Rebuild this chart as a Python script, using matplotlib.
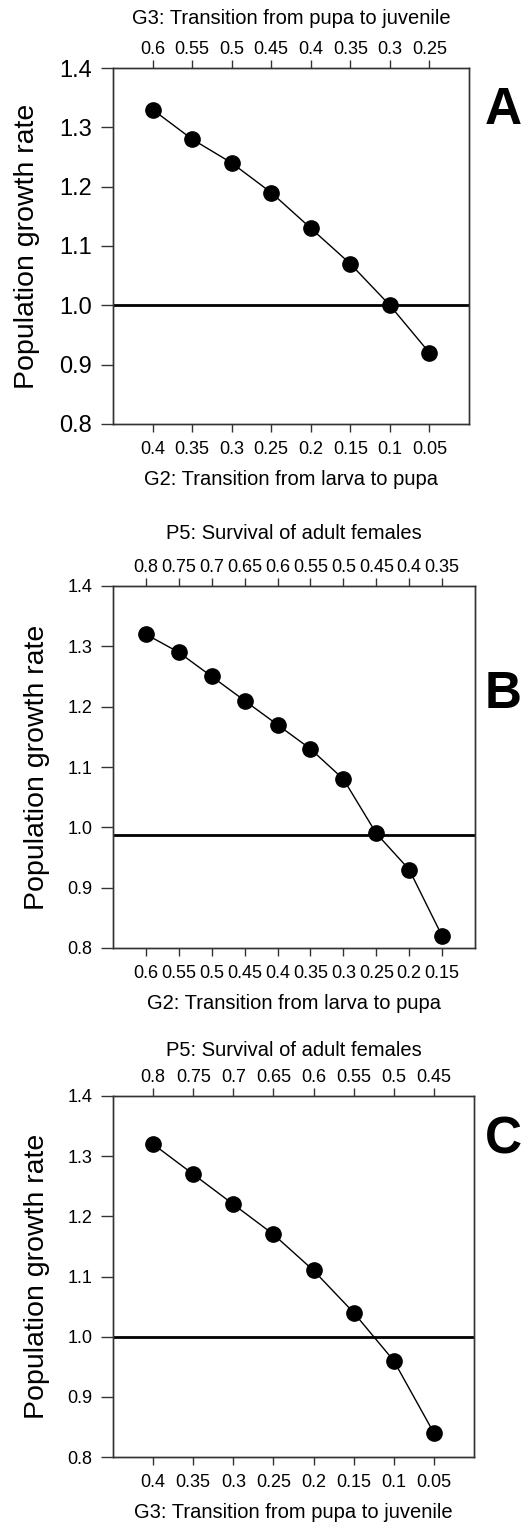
import matplotlib.pyplot as plt

plt.rcParams['font.family'] = ['Liberation Sans', 'DejaVu Sans']

# panel A
a_bottom = [0.4, 0.35, 0.3, 0.25, 0.2, 0.15, 0.1, 0.05]
a_bottom_labels = ["0.4", "0.35", "0.3", "0.25", "0.2", "0.15", "0.1", "0.05"]
a_top_labels = ["0.6", "0.55", "0.5", "0.45", "0.4", "0.35", "0.3", "0.25"]
a_growth = [1.33, 1.28, 1.24, 1.19, 1.13, 1.07, 1.00, 0.92]
a_ref = 1.0

# panel B
b_bottom = [0.6, 0.55, 0.5, 0.45, 0.4, 0.35, 0.3, 0.25, 0.2, 0.15]
b_bottom_labels = ["0.6", "0.55", "0.5", "0.45", "0.4", "0.35", "0.3", "0.25", "0.2", "0.15"]
b_top_labels = ["0.8", "0.75", "0.7", "0.65", "0.6", "0.55", "0.5", "0.45", "0.4", "0.35"]
b_growth = [1.32, 1.29, 1.25, 1.21, 1.17, 1.13, 1.08, 0.99, 0.93, 0.82]
b_ref = 0.988

# panel C
c_bottom = [0.4, 0.35, 0.3, 0.25, 0.2, 0.15, 0.1, 0.05]
c_bottom_labels = ["0.4", "0.35", "0.3", "0.25", "0.2", "0.15", "0.1", "0.05"]
c_top_labels = ["0.8", "0.75", "0.7", "0.65", "0.6", "0.55", "0.5", "0.45"]
c_growth = [1.32, 1.27, 1.22, 1.17, 1.11, 1.04, 0.96, 0.84]
c_ref = 1.0

y_ticks = [0.8, 0.9, 1.0, 1.1, 1.2, 1.3, 1.4]
y_tick_labels = ["0.8", "0.9", "1.0", "1.1", "1.2", "1.3", "1.4"]

W, H = 521, 1523
fig = plt.figure(figsize=(W / 100, H / 100), dpi=100)
SPINE = '#333333'


def px_axes(left, top, right, bottom):
    return fig.add_axes([left / W, 1 - bottom / H, (right - left) / W, (bottom - top) / H])


def panel(ax, xs, growth, ref, bottom_labels, top_labels, bottom_title, top_title,
          ytick_size, ylab_pad, top_pad, letter, letter_y):
    step = xs[0] - xs[1]
    ax.plot(xs, growth, color='black', lw=1.0, marker='o', ms=11, zorder=3)
    ax.axhline(ref, color='black', lw=2.0, zorder=2)
    ax.set_xlim(xs[0] + step, xs[-1] - step)
    ax.set_ylim(0.8, 1.4)
    ax.set_xticks(xs)
    ax.set_xticklabels(bottom_labels, fontsize=13)
    ax.set_yticks(y_ticks)
    ax.set_yticklabels(y_tick_labels, fontsize=ytick_size)
    ax.set_xlabel(bottom_title, fontsize=14.5, labelpad=9)
    ax.set_ylabel("Population growth rate", fontsize=20.5, labelpad=ylab_pad)
    ax.tick_params(axis='x', direction='out', length=6, width=1, pad=6, color=SPINE)
    ax.tick_params(axis='y', direction='out', length=9, width=1, pad=6, color=SPINE)
    for s in ax.spines.values():
        s.set_color(SPINE)
        s.set_linewidth(1.0)

    top = ax.twiny()
    top.set_xlim(ax.get_xlim())
    top.set_xticks(xs)
    top.set_xticklabels(top_labels, fontsize=13)
    top.set_xlabel(top_title, fontsize=14.5, labelpad=top_pad)
    top.tick_params(axis='x', direction='out', length=6, width=1, pad=1.5, color=SPINE)
    for s in top.spines.values():
        s.set_color(SPINE)
        s.set_linewidth(1.0)

    fig.text(503 / W, 1 - letter_y / H, letter, fontsize=37, fontweight='bold',
             ha='center', va='center')


ax_a = px_axes(113, 68, 469, 424)
panel(ax_a, a_bottom, a_growth, a_ref, a_bottom_labels, a_top_labels,
      "G2: Transition from larva to pupa", "G3: Transition from pupa to juvenile",
      17, 14, 12, "A", 111)

ax_b = px_axes(113, 586, 475, 948)
panel(ax_b, b_bottom, b_growth, b_ref, b_bottom_labels, b_top_labels,
      "G2: Transition from larva to pupa", "P5: Survival of adult females",
      13, 12, 14, "B", 695)

ax_c = px_axes(113, 1096, 474, 1457)
panel(ax_c, c_bottom, c_growth, c_ref, c_bottom_labels, c_top_labels,
      "G3: Transition from pupa to juvenile", "P5: Survival of adult females",
      13, 12, 9, "C", 1140)

fig.savefig("out.png", dpi=100)
